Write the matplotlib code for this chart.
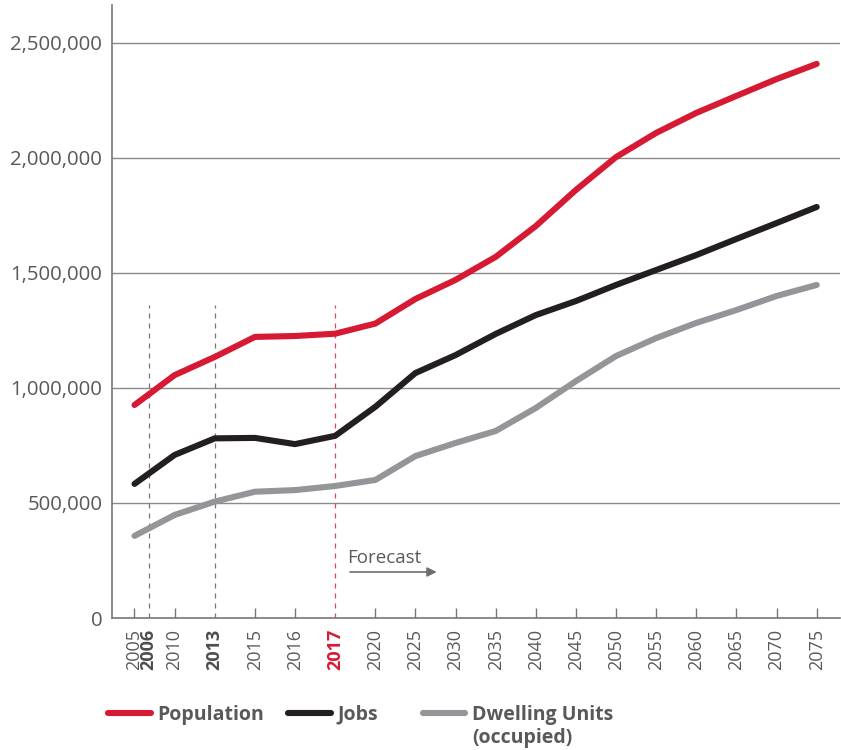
import matplotlib
matplotlib.use("Agg")
import matplotlib.pyplot as plt
from matplotlib.lines import Line2D
import numpy as np

plt.rcParams['font.family'] = ['Open Sans', 'DejaVu Sans']

years = [2005, 2010, 2013, 2015, 2016, 2017, 2020, 2025, 2030, 2035, 2040,
         2045, 2050, 2055, 2060, 2065, 2070, 2075]
population = [926000, 1056000, 1135000, 1222000, 1226000, 1236000, 1280000,
              1387000, 1470000, 1570000, 1704000, 1861000, 2004000, 2109000,
              2196000, 2270000, 2343000, 2409000]
jobs = [583000, 709000, 781000, 783000, 756000, 792000, 918000, 1065000,
        1143000, 1235000, 1317000, 1378000, 1448000, 1513000, 1578000,
        1648000, 1717000, 1787000]
dwellings = [357000, 448000, 506000, 549000, 556000, 574000, 600000, 704000,
             761000, 813000, 913000, 1030000, 1139000, 1217000, 1283000,
             1339000, 1400000, 1448000]

# reference years marked by dashed lines (2006 sits between 2005 and 2010)
marker_years = ['2006', '2013', '2017']
marker_pos = [0.35, 2, 5]
marker_colors = ['#777777', '#777777', '#e0455a']
marker_top = 1360000

red = '#d71a33'
black = '#231f20'
gray = '#939598'
txt = '#58595b'

fig = plt.figure(figsize=(8.41, 7.5), dpi=100)
ax = fig.add_axes([0.1332, 0.176, 0.8656, 0.8173])

x = np.arange(len(years))
for vals, c in [(dwellings, gray), (jobs, black), (population, red)]:
    ax.plot(x, vals, color=c, lw=4.4, solid_capstyle='round',
            solid_joinstyle='round', zorder=3)

for p, c in zip(marker_pos, marker_colors):
    ax.vlines(p, 0, marker_top, colors=c, lw=0.9, linestyles=(0, (4, 4)),
              zorder=2)

ax.set_ylim(0, 2665000)
ax.set_xlim(-0.56, 17.58)
yt = [0, 500000, 1000000, 1500000, 2000000, 2500000]
ax.set_yticks(yt)
ax.set_yticklabels(['{:,}'.format(v) for v in yt], fontsize=14.7, color=txt)
for v in yt[1:]:
    ax.axhline(v, color='#8a8a8a', lw=1.0, zorder=1)
ax.tick_params(axis='y', length=0, pad=7)

# x ticks: data years plus the inserted 2006 marker
tick_pos = list(x) + [marker_pos[0]]
tick_lab = [str(y) for y in years] + ['2006']
ax.set_xticks(tick_pos)
ax.set_xticklabels(tick_lab, rotation=90, fontsize=13, color=txt)
ax.tick_params(axis='x', direction='in', length=7, width=1, color='#777777',
               pad=8)
for t, lab in zip(ax.xaxis.get_major_ticks(), tick_lab):
    if lab in marker_years:
        t.tick1line.set_visible(False)
for lab in ax.get_xticklabels():
    s = lab.get_text()
    if s in ('2006', '2013'):
        lab.set_fontweight('bold')
        lab.set_color('#4d4d4f')
    elif s == '2017':
        lab.set_fontweight('bold')
        lab.set_color(red)

for s in ['top', 'right']:
    ax.spines[s].set_visible(False)
for s in ['left', 'bottom']:
    ax.spines[s].set_color('#777777')
    ax.spines[s].set_linewidth(1.2)

ax.annotate('', xy=(7.6, 200000), xytext=(5.3, 200000),
            arrowprops=dict(arrowstyle='-|>', color='#6d6e71', lw=1.2,
                            mutation_scale=14))
ax.text(5.3, 222000, 'Forecast', fontsize=13.5, color=txt, va='bottom',
        ha='left')

# legend below the chart
legend_items = [('Population', red, 0.129), ('Jobs', black, 0.343),
                ('Dwelling Units\n(occupied)', gray, 0.503)]
for label, c, x0 in legend_items:
    fig.add_artist(Line2D([x0, x0 + 0.05], [0.049, 0.049], color=c, lw=4.4,
                          solid_capstyle='round', transform=fig.transFigure))
    fig.text(x0 + 0.058, 0.0605, label, fontsize=14, color=txt,
             fontweight='bold', va='top', ha='left', linespacing=1.25)

fig.savefig('out.png', dpi=100)
